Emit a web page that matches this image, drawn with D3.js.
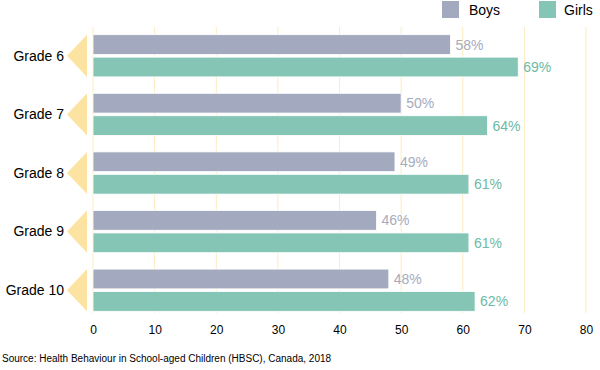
<!DOCTYPE html>
<html>
<head>
<meta charset="utf-8">
<script src="https://cdn.jsdelivr.net/npm/d3@7"></script>
<style>
  body { margin: 0; background: #fff; }
  svg { font-family: "Liberation Sans", Arial, sans-serif; }
</style>
</head>
<body>
<div id="chart"></div>
<script>
var grades = ['Grade 6', 'Grade 7', 'Grade 8', 'Grade 9', 'Grade 10'];
var series = ['Boys', 'Girls'];
var boys = [58, 50, 49, 46, 48];
var girls = [69, 64, 61, 61, 62];
var ticks = [0, 10, 20, 30, 40, 50, 60, 70, 80];
var colors = { 'Boys': '#a3a9be', 'Girls': '#85c5b5' };
var labelColors = { 'Boys': '#a6abc0', 'Girls': '#6dbaa5' };

var width = 600, height = 370;
var svg = d3.select('#chart').append('svg')
	.attr('width', width)
	.attr('height', height);

var x = d3.scaleLinear().domain([0, 80]).range([93, 586]);
var y = d3.scaleBand().domain(grades).range([26.5, 319.5])
	.paddingInner(0.28).paddingOuter(0.14);
var yInner = d3.scaleBand().domain(series).range([0, y.bandwidth()]).paddingInner(0.12);

// grid
svg.append('g').selectAll('line')
	.data(ticks)
	.enter().append('line')
	.attr('x1', d => x(d)).attr('x2', d => x(d))
	.attr('y1', 27).attr('y2', 313)
	.style('stroke', '#fcecc0')
	.style('stroke-width', 1);

// axis labels
var axis = d3.axisBottom(x).tickValues(ticks).tickSize(0).tickPadding(0);
var ax = svg.append('g').attr('transform', 'translate(0,325)').call(axis);
ax.select('.domain').remove();
ax.selectAll('text').style('font-size', '12px').style('fill', '#000')
	.style('font-family', '"Liberation Sans", Arial, sans-serif');

var rows = grades.map((g, i) => ({ grade: g, Boys: boys[i], Girls: girls[i] }));

var groups = svg.append('g').selectAll('g')
	.data(rows)
	.enter().append('g')
	.attr('transform', d => 'translate(0,' + y(d.grade) + ')');

// arrow markers
groups.append('path')
	.attr('d', function() {
		var h = y.bandwidth();
		return 'M' + 87 + ',0 L' + 87 + ',' + h + ' L' + 67 + ',' + (h / 2) + ' Z';
	})
	.style('fill', '#fde3a1');

groups.append('text')
	.attr('x', 64)
	.attr('y', y.bandwidth() / 2)
	.attr('dy', '0.35em')
	.attr('text-anchor', 'end')
	.style('font-size', '14px')
	.style('fill', '#000')
	.text(d => d.grade);

series.forEach(function(s) {
	groups.append('rect')
		.attr('x', x(0))
		.attr('y', yInner(s))
		.attr('width', d => x(d[s]) - x(0))
		.attr('height', yInner.bandwidth())
		.style('fill', colors[s])
		.style('stroke', '#fff')
		.style('stroke-width', 0.8);
	groups.append('text')
		.attr('x', d => x(d[s]) + 5)
		.attr('y', yInner(s) + yInner.bandwidth() / 2)
		.attr('dy', '0.36em')
		.style('font-size', '14px')
		.style('fill', labelColors[s])
		.text(d => d[s] + '%');
});

// legend
var legendX = [442, 539];
var leg = svg.append('g').selectAll('g')
	.data(series)
	.enter().append('g')
	.attr('transform', (d, i) => 'translate(' + legendX[i] + ',1)');
leg.append('rect')
	.attr('width', 17).attr('height', 17)
	.style('fill', d => colors[d]);
leg.append('text')
	.attr('x', d => d == 'Boys' ? 27 : 25)
	.attr('y', 9)
	.attr('dy', '0.35em')
	.style('font-size', '14px')
	.text(d => d);

svg.append('text')
	.attr('x', 2)
	.attr('y', 362)
	.style('font-size', '10px')
	.style('fill', '#000')
	.text('Source: Health Behaviour in School-aged Children (HBSC), Canada, 2018');
</script>
</body>
</html>
